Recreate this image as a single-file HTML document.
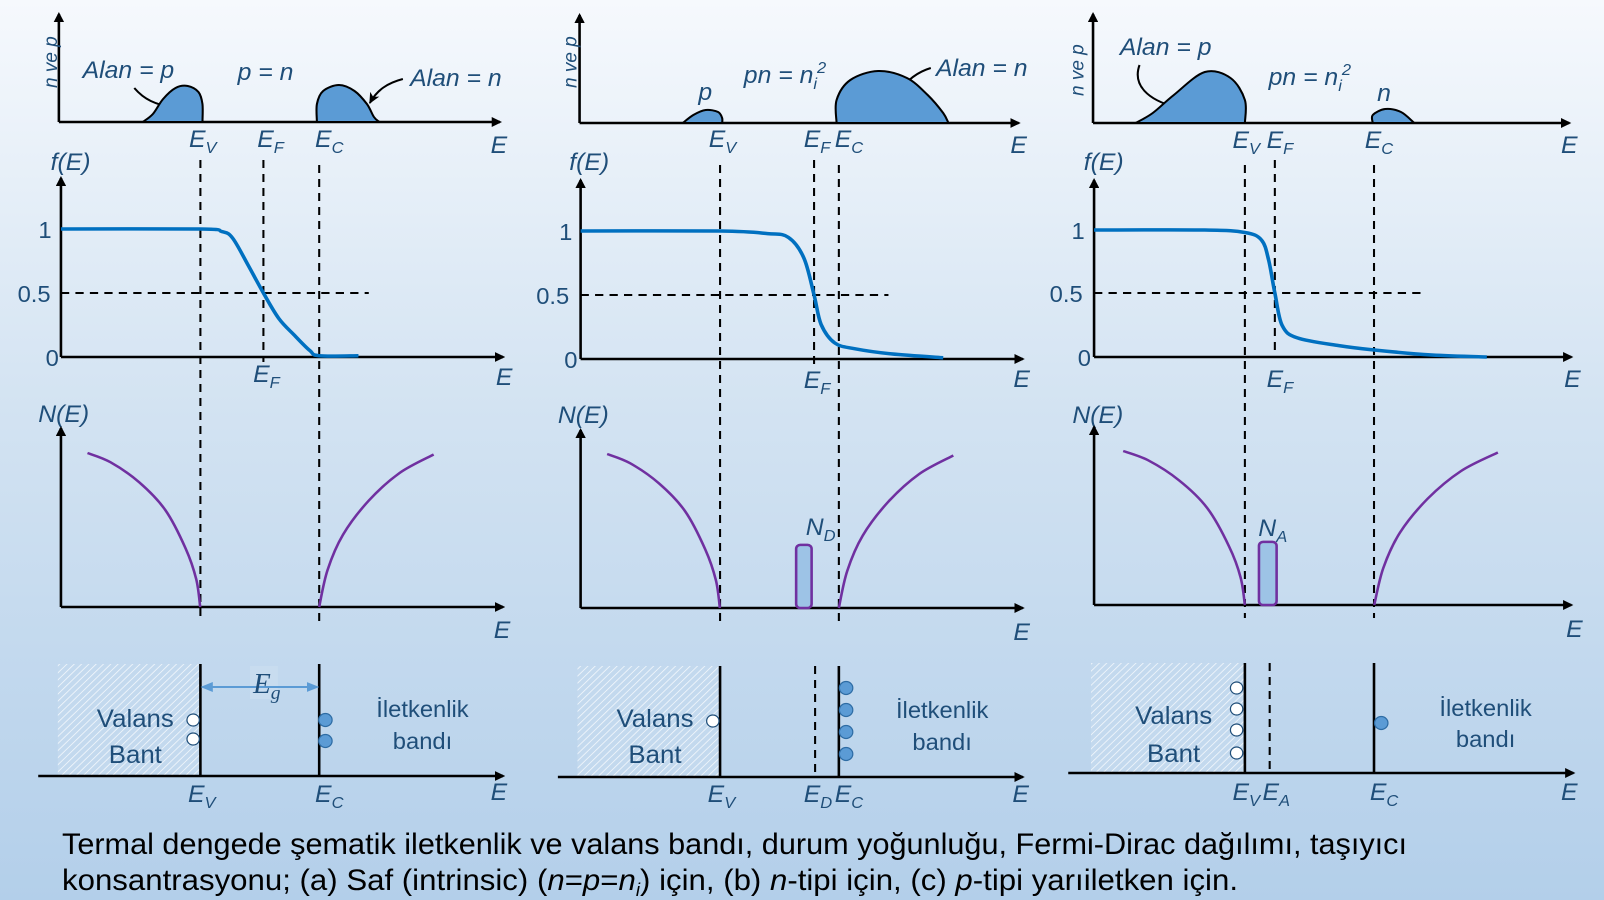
<!DOCTYPE html>
<html><head><meta charset="utf-8"><style>
html,body{margin:0;padding:0;}
body{width:1604px;height:900px;overflow:hidden;}
svg{display:block;}
text{font-family:"Liberation Sans",sans-serif;fill:#1f4e79;}
.it{font-style:italic;}
.lab{font-size:24px;font-style:italic;}
.sub{font-size:16px;}
.tick{font-size:23px;}
.ax{stroke:#000;stroke-width:2.5;fill:none;}
.dash{stroke:#000;stroke-width:2;stroke-dasharray:8,6;fill:none;}
.solid{stroke:#000;stroke-width:2.5;}
</style></head><body>
<svg id="fig" width="1604" height="900" viewBox="0 0 1604 900" xmlns="http://www.w3.org/2000/svg">
<defs>
<linearGradient id="bg" x1="0" y1="0" x2="0" y2="1">
<stop offset="0" stop-color="#f6f9fd"/><stop offset="0.45" stop-color="#d3e3f2"/><stop offset="1" stop-color="#b3cfea"/>
</linearGradient>
<marker id="arr" markerWidth="10" markerHeight="10" refX="8" refY="5" orient="auto" markerUnits="userSpaceOnUse">
<path d="M0,0 L10,5 L0,10 z" fill="#000"/></marker>
<marker id="arrs" markerWidth="12" markerHeight="12" refX="10" refY="6" orient="auto" markerUnits="userSpaceOnUse">
<path d="M0,1 L11,6 L0,11 L3,6 z" fill="#000"/></marker>
<marker id="barr" markerWidth="12" markerHeight="12" refX="10" refY="6" orient="auto-start-reverse" markerUnits="userSpaceOnUse">
<path d="M0,1 L12,6 L0,11 z" fill="#5b9bd5"/></marker>
<pattern id="hatch" width="5" height="5" patternUnits="userSpaceOnUse" patternTransform="rotate(45)">
<rect width="5" height="5" fill="#c3d9ee"/><line x1="0" y1="0" x2="0" y2="5" stroke="#f2f7fc" stroke-width="1.6"/>
</pattern>
</defs>
<rect width="1604" height="900" fill="url(#bg)"/>

<!-- ===== Panel A ===== -->
<g transform="scale(1.033,1)">
<line class="ax" x1="57" y1="122" x2="57" y2="14" marker-end="url(#arr)"/>
<line class="ax" x1="57" y1="122" x2="484" y2="122" marker-end="url(#arr)"/>
<text class="it" font-size="19" transform="translate(55,88) rotate(-90)">n ve p</text>
<text class="lab" x="80" y="78">Alan = p</text>
<text class="lab" x="230" y="80">p = n</text>
<text class="lab" x="397" y="86">Alan = n</text>
<path d="M130,88 C140,100 150,104 168,108" fill="none" stroke="#000" stroke-width="2" marker-end="url(#arrs)"/>
<path d="M390,79 C375,83 365,90 358,103" fill="none" stroke="#000" stroke-width="2" marker-end="url(#arrs)"/>
<text class="lab" x="183" y="147">E<tspan class="sub" dy="6">V</tspan></text>
<text class="lab" x="249" y="147">E<tspan class="sub" dy="6">F</tspan></text>
<text class="lab" x="305" y="147">E<tspan class="sub" dy="6">C</tspan></text>
<text class="lab" x="475" y="153">E</text>
<text class="lab" x="49" y="170">f(E)</text>
<line class="ax" x1="59" y1="357" x2="59" y2="178" marker-end="url(#arr)"/>
<line class="ax" x1="59" y1="357" x2="487" y2="357" marker-end="url(#arr)"/>
<text class="tick" x="50" y="238" text-anchor="end">1</text>
<text class="tick" x="49" y="302" text-anchor="end">0.5</text>
<text class="tick" x="57" y="366" text-anchor="end">0</text>
<line class="dash" x1="59" y1="293" x2="357" y2="293"/>
<line class="dash" x1="194" y1="160" x2="194" y2="622"/>
<line class="dash" x1="255" y1="160" x2="255" y2="362" stroke-width="2.5"/>
<line class="dash" x1="309" y1="165" x2="309" y2="622"/>
<text class="lab" x="245" y="382">E<tspan class="sub" dy="6">F</tspan></text>
<text class="lab" x="480" y="385">E</text>
<text class="lab" x="37" y="422">N(E)</text>
<line class="ax" x1="59" y1="607" x2="59" y2="428" marker-end="url(#arr)"/>
<line class="ax" x1="59" y1="607" x2="487" y2="607" marker-end="url(#arr)"/>
<text class="lab" x="478" y="638">E</text>
<rect x="56" y="664" width="138" height="112" fill="url(#hatch)"/>
<line class="solid" x1="194" y1="664" x2="194" y2="776"/>
<line class="solid" x1="309" y1="664" x2="309" y2="776"/>
<line class="ax" x1="37" y1="776" x2="487" y2="776" marker-end="url(#arr)"/>
<rect x="242" y="666" width="27" height="33" fill="#c8dcef"/>
<line x1="196" y1="687" x2="307" y2="687" stroke="#5b9bd5" stroke-width="2" marker-start="url(#barr)" marker-end="url(#barr)"/>
<text x="245" y="693" font-style="italic" font-size="28" style="font-family:'Liberation Serif',serif">E<tspan font-size="19" dy="6">g</tspan></text>
<text x="131" y="727" font-size="25" text-anchor="middle">Valans</text>
<text x="131" y="763" font-size="25" text-anchor="middle">Bant</text>
<circle cx="187" cy="720" r="6" fill="#fff" stroke="#1f4e79" stroke-width="1.2"/>
<circle cx="187" cy="739" r="6" fill="#fff" stroke="#1f4e79" stroke-width="1.2"/>
<circle cx="315" cy="720" r="6.5" fill="#5b9bd5" stroke="#2e6ca4" stroke-width="1.2"/>
<circle cx="315" cy="741" r="6.5" fill="#5b9bd5" stroke="#2e6ca4" stroke-width="1.2"/>
<text x="409" y="717" font-size="23" text-anchor="middle">İletkenlik</text>
<text x="409" y="749" font-size="23" text-anchor="middle">bandı</text>
<text class="lab" x="182" y="802">E<tspan class="sub" dy="6">V</tspan></text>
<text class="lab" x="305" y="802">E<tspan class="sub" dy="6">C</tspan></text>
<text class="lab" x="475" y="800">E</text>
<g id="marks-a"></g>
</g>

<!-- ===== Panel B ===== -->
<g transform="translate(-17.5,0) scale(1.033,1)">
<line class="ax" x1="578" y1="123" x2="578" y2="15" marker-end="url(#arr)"/>
<line class="ax" x1="578" y1="123" x2="1003" y2="123" marker-end="url(#arr)"/>
<text class="it" font-size="19" transform="translate(575,88) rotate(-90)">n ve p</text>
<text class="lab" x="693" y="100">p</text>
<text class="lab" x="737" y="83">pn = n<tspan class="sub" dy="6">i</tspan><tspan class="sub" dy="-16">2</tspan></text>
<text class="lab" x="923" y="76">Alan = n</text>
<path d="M918,68 C905,72 895,80 887,92" fill="none" stroke="#000" stroke-width="2" marker-end="url(#arrs)"/>
<text class="lab" x="703" y="147">E<tspan class="sub" dy="6">V</tspan></text>
<text class="lab" x="795" y="147">E<tspan class="sub" dy="6">F</tspan></text>
<text class="lab" x="825" y="147">E<tspan class="sub" dy="6">C</tspan></text>
<text class="lab" x="995" y="153">E</text>
<text class="lab" x="568" y="170">f(E)</text>
<line class="ax" x1="579" y1="359" x2="579" y2="180" marker-end="url(#arr)"/>
<line class="ax" x1="579" y1="359" x2="1007" y2="359" marker-end="url(#arr)"/>
<text class="tick" x="571" y="240" text-anchor="end">1</text>
<text class="tick" x="568" y="304" text-anchor="end">0.5</text>
<text class="tick" x="576" y="368" text-anchor="end">0</text>
<line class="dash" x1="579" y1="295" x2="877" y2="295"/>
<line class="dash" x1="714" y1="165" x2="714" y2="623"/>
<line class="dash" x1="805" y1="160" x2="805" y2="364" stroke-width="2.5"/>
<line class="dash" x1="829" y1="165" x2="829" y2="623"/>
<text class="lab" x="795" y="388">E<tspan class="sub" dy="6">F</tspan></text>
<text class="lab" x="998" y="387">E</text>
<text class="lab" x="557" y="423">N(E)</text>
<line class="ax" x1="579" y1="608" x2="579" y2="430" marker-end="url(#arr)"/>
<line class="ax" x1="579" y1="608" x2="1007" y2="608" marker-end="url(#arr)"/>
<text class="lab" x="797" y="535">N<tspan class="sub" dy="6">D</tspan></text>
<text class="lab" x="998" y="640">E</text>
<rect x="576" y="666" width="138" height="111" fill="url(#hatch)"/>
<line class="solid" x1="714" y1="666" x2="714" y2="777" stroke-width="2"/>
<line class="dash" x1="806" y1="666" x2="806" y2="777"/>
<line class="solid" x1="829" y1="666" x2="829" y2="777" stroke-width="3"/>
<line class="ax" x1="557" y1="777" x2="1007" y2="777" marker-end="url(#arr)"/>
<text x="651" y="727" font-size="25" text-anchor="middle">Valans</text>
<text x="651" y="763" font-size="25" text-anchor="middle">Bant</text>
<circle cx="707" cy="721" r="6" fill="#fff" stroke="#1f4e79" stroke-width="1.2"/>
<circle cx="836" cy="688" r="6.5" fill="#5b9bd5" stroke="#2e6ca4" stroke-width="1.2"/>
<circle cx="836" cy="710" r="6.5" fill="#5b9bd5" stroke="#2e6ca4" stroke-width="1.2"/>
<circle cx="836" cy="732" r="6.5" fill="#5b9bd5" stroke="#2e6ca4" stroke-width="1.2"/>
<circle cx="836" cy="754" r="6.5" fill="#5b9bd5" stroke="#2e6ca4" stroke-width="1.2"/>
<text x="929" y="718" font-size="23" text-anchor="middle">İletkenlik</text>
<text x="929" y="750" font-size="23" text-anchor="middle">bandı</text>
<text class="lab" x="702" y="802">E<tspan class="sub" dy="6">V</tspan></text>
<text class="lab" x="795" y="802">E<tspan class="sub" dy="6">D</tspan></text>
<text class="lab" x="825" y="802">E<tspan class="sub" dy="6">C</tspan></text>
<text class="lab" x="997" y="802">E</text>
<g id="marks-b"></g>
</g>

<!-- ===== Panel C ===== -->
<g transform="translate(-35,0) scale(1.033,1)">
<line class="ax" x1="1092" y1="123" x2="1092" y2="14" marker-end="url(#arr)"/>
<line class="ax" x1="1092" y1="123" x2="1553" y2="123" marker-end="url(#arr)"/>
<text class="it" font-size="19" transform="translate(1083,96) rotate(-90)">n ve p</text>
<text class="lab" x="1118" y="55">Alan = p</text>
<path d="M1137,65 C1130,85 1145,100 1172,107" fill="none" stroke="#000" stroke-width="2" marker-end="url(#arrs)"/>
<text class="lab" x="1262" y="85">pn = n<tspan class="sub" dy="6">i</tspan><tspan class="sub" dy="-16">2</tspan></text>
<text class="lab" x="1367" y="101">n</text>
<text class="lab" x="1227" y="148">E<tspan class="sub" dy="6">V</tspan></text>
<text class="lab" x="1260" y="148">E<tspan class="sub" dy="6">F</tspan></text>
<text class="lab" x="1355" y="148">E<tspan class="sub" dy="6">C</tspan></text>
<text class="lab" x="1545" y="153">E</text>
<text class="lab" x="1083" y="170">f(E)</text>
<line class="ax" x1="1093" y1="357" x2="1093" y2="180" marker-end="url(#arr)"/>
<line class="ax" x1="1093" y1="357" x2="1555" y2="357" marker-end="url(#arr)"/>
<text class="tick" x="1084" y="239" text-anchor="end">1</text>
<text class="tick" x="1082" y="302" text-anchor="end">0.5</text>
<text class="tick" x="1090" y="366" text-anchor="end">0</text>
<line class="dash" x1="1093" y1="293" x2="1415" y2="293"/>
<line class="dash" x1="1239" y1="165" x2="1239" y2="618"/>
<line class="dash" x1="1268" y1="160" x2="1268" y2="357" stroke-width="2.5"/>
<line class="dash" x1="1364" y1="165" x2="1364" y2="618"/>
<text class="lab" x="1260" y="387">E<tspan class="sub" dy="6">F</tspan></text>
<text class="lab" x="1548" y="387">E</text>
<text class="lab" x="1072" y="423">N(E)</text>
<line class="ax" x1="1093" y1="605" x2="1093" y2="427" marker-end="url(#arr)"/>
<line class="ax" x1="1093" y1="605" x2="1555" y2="605" marker-end="url(#arr)"/>
<text class="lab" x="1252" y="536">N<tspan class="sub" dy="6">A</tspan></text>
<text class="lab" x="1550" y="637">E</text>
<rect x="1090" y="663" width="149" height="110" fill="url(#hatch)"/>
<line class="solid" x1="1239" y1="663" x2="1239" y2="773" stroke-width="2"/>
<line class="dash" x1="1263" y1="663" x2="1263" y2="773"/>
<line class="solid" x1="1364" y1="663" x2="1364" y2="773"/>
<line class="ax" x1="1068" y1="773" x2="1557" y2="773" marker-end="url(#arr)"/>
<text x="1170" y="724" font-size="25" text-anchor="middle">Valans</text>
<text x="1170" y="762" font-size="25" text-anchor="middle">Bant</text>
<circle cx="1231" cy="688" r="6" fill="#fff" stroke="#1f4e79" stroke-width="1.2"/>
<circle cx="1231" cy="709" r="6" fill="#fff" stroke="#1f4e79" stroke-width="1.2"/>
<circle cx="1231" cy="730" r="6" fill="#fff" stroke="#1f4e79" stroke-width="1.2"/>
<circle cx="1231" cy="753" r="6" fill="#fff" stroke="#1f4e79" stroke-width="1.2"/>
<circle cx="1371" cy="723" r="6.5" fill="#5b9bd5" stroke="#2e6ca4" stroke-width="1.2"/>
<text x="1472" y="716" font-size="23" text-anchor="middle">İletkenlik</text>
<text x="1472" y="747" font-size="23" text-anchor="middle">bandı</text>
<text class="lab" x="1227" y="800">E<tspan class="sub" dy="6">V</tspan></text>
<text class="lab" x="1256" y="800">E<tspan class="sub" dy="6">A</tspan></text>
<text class="lab" x="1360" y="800">E<tspan class="sub" dy="6">C</tspan></text>
<text class="lab" x="1545" y="800">E</text>
<g id="marks-c"></g>
</g>

<text x="62" y="854" font-size="30" style="fill:#000" textLength="1345" lengthAdjust="spacingAndGlyphs">Termal dengede şematik iletkenlik ve valans bandı, durum yoğunluğu, Fermi-Dirac dağılımı, taşıyıcı</text>
<text x="62" y="890" font-size="30" style="fill:#000" textLength="1176" lengthAdjust="spacingAndGlyphs">konsantrasyonu; (a)  Saf (intrinsic) (<tspan font-style="italic">n</tspan>=<tspan font-style="italic">p</tspan>=<tspan font-style="italic">n<tspan font-size="18" dy="6">i</tspan></tspan><tspan dy="-6">) için, (b) </tspan><tspan font-style="italic">n</tspan>-tipi için, (c) <tspan font-style="italic">p</tspan>-tipi yarıiletken için.</text>
</svg>
<script>
// ---- Fermi-Dirac curves (E in arbitrary units 0..100, f 0..1) ----
const fA_E = [0, 31.5, 36.4, 38.8, 42.3, 45.8, 49.3, 52.8, 56.3, 58.4, 67.3];
const fA_f = [1, 1, 0.98, 0.93, 0.72, 0.5, 0.30, 0.17, 0.05, 0.01, 0.01];
const fB_E = [0, 31.5, 42.3, 47.0, 50.5, 52.8, 54.4, 57.5, 62.1, 70.3, 82.0];
const fB_f = [1, 1, 0.98, 0.95, 0.79, 0.5, 0.27, 0.125, 0.08, 0.04, 0.01];
const fC_E = [0, 23.2, 31.6, 35.1, 36.6, 37.9, 39.4, 42.6, 51.3, 58.7, 70.8, 82.3];
const fC_f = [1, 1, 0.98, 0.92, 0.76, 0.5, 0.25, 0.15, 0.09, 0.055, 0.016, 0];
// ---- Density of states shapes (offset from band edge, N 0..100) ----
const dosVal_dE = [-25.5, -20.3, -13.8, -7.9, -3.3, -0.9, 0];
const dosVal_N = [100, 94, 81, 63, 38, 18, 0];
const dosCon_dE = [0, 1.9, 5.4, 11.2, 18.2, 25.9];
const dosCon_N = [0, 24, 47, 69, 87, 99];
// ---- Band edges per panel (E units) ----
const edgeEv = [31.5, 31.5, 31.6];
const edgeEc = [58.4, 58.4, 58.7];
// ---- Dopant levels ----
const dopE = [null, 50.5, 36.4];
const dopWidth = [0, 3.5, 3.7];
const dopN = [0, 41, 41];
// ---- Carrier blobs (E units, height 0..100) ----
const pA_E = [18.5, 20.8, 23.1, 25.9, 28.7, 31.1, 32, 32];
const pA_v = [0, 16, 46, 68, 72, 60, 36, 0];
const nA_E = [57.9, 57.9, 59.3, 62.9, 66.4, 69.2, 70.8, 72];
const nA_v = [0, 36, 62, 74, 62, 36, 10, 0];
const pB_E = [23.1, 25.5, 28.3, 31.1, 32, 32];
const pB_v = [0, 16, 26, 22, 10, 0];
const nB_E = [57.9, 57.9, 61, 67.3, 73.8, 78.5, 82, 83.2];
const nB_v = [0, 46, 86, 104, 90, 56, 20, 0];
const pC_E = [8.7, 12.3, 16.7, 23.2, 28.6, 31.6, 31.6];
const pC_v = [0, 20, 56, 102, 90, 46, 0];
const nC_E = [58.4, 58.4, 61, 64.3, 67.1];
const nC_v = [0, 16, 28, 22, 0];

const panels = [
  {id:'a', x0:59, k:4.28, fy1:229, fy0:357, ny0:607, ty0:122, fE:fA_E, ff:fA_f, pE:pA_E, pv:pA_v, nE:nA_E, nv:nA_v},
  {id:'b', x0:579, k:4.28, fy1:231, fy0:359, ny0:608, ty0:123, fE:fB_E, ff:fB_f, pE:pB_E, pv:pB_v, nE:nB_E, nv:nB_v},
  {id:'c', x0:1093, k:4.62, fy1:230, fy0:357, ny0:605, ty0:123, fE:fC_E, ff:fC_f, pE:pC_E, pv:pC_v, nE:nC_E, nv:nC_v}
];
const NS = 'http://www.w3.org/2000/svg';
function smooth(pts){
  let d = 'M' + pts[0][0].toFixed(1) + ',' + pts[0][1].toFixed(1);
  for (let i = 0; i < pts.length - 1; i++) {
    const p0 = pts[i-1] || pts[i], p1 = pts[i], p2 = pts[i+1], p3 = pts[i+2] || p2;
    const c1x = p1[0] + (p2[0]-p0[0])/6, c1y = p1[1] + (p2[1]-p0[1])/6;
    const c2x = p2[0] - (p3[0]-p1[0])/6, c2y = p2[1] - (p3[1]-p1[1])/6;
    d += ' C' + c1x.toFixed(1)+','+c1y.toFixed(1)+' '+c2x.toFixed(1)+','+c2y.toFixed(1)+' '+p2[0].toFixed(1)+','+p2[1].toFixed(1);
  }
  return d;
}
panels.forEach(function(P, i){
  const host = document.getElementById('marks-' + P.id);
  function mk(tag){ const el = document.createElementNS(NS, tag); host.appendChild(el); return el; }
  const xs = function(E){ return P.x0 + E * P.k; };
  const fy = function(f){ return P.fy0 - f * (P.fy0 - P.fy1); };
  const ny = function(N){ return P.ny0 - N * 1.54; };
  const ty = function(v){ return P.ty0 - v * 0.5; };
  [[P.pE, P.pv, 'p'], [P.nE, P.nv, 'n']].forEach(function(b){
    const pts = b[0].map(function(E, j){ return [xs(E), ty(b[1][j])]; });
    const el = mk('path');
    el.setAttribute('d', smooth(pts) + ' Z');
    el.setAttribute('fill', '#5b9bd5');
    el.setAttribute('stroke', '#000');
    el.setAttribute('stroke-width', '2');
    
    
  });
  const fpts = P.fE.map(function(E, j){ return [xs(E), fy(P.ff[j])]; });
  const fl = mk('path');
  fl.setAttribute('d', smooth(fpts));
  fl.setAttribute('fill', 'none');
  fl.setAttribute('stroke', '#0070c0');
  fl.setAttribute('stroke-width', '3.5');
  
  
  const vpts = dosVal_dE.map(function(dE, j){ return [xs(edgeEv[i] + dE), ny(dosVal_N[j])]; });
  const vl = mk('path');
  vl.setAttribute('d', smooth(vpts));
  vl.setAttribute('fill', 'none');
  vl.setAttribute('stroke', '#7030a0');
  vl.setAttribute('stroke-width', '2.5');
  
  
  const cpts = dosCon_dE.map(function(dE, j){ return [xs(edgeEc[i] + dE), ny(dosCon_N[j])]; });
  const cl = mk('path');
  cl.setAttribute('d', smooth(cpts));
  cl.setAttribute('fill', 'none');
  cl.setAttribute('stroke', '#7030a0');
  cl.setAttribute('stroke-width', '2.5');
  
  
  if (dopE[i] !== null) {
    const r = mk('rect');
    r.setAttribute('x', xs(dopE[i]) - dopWidth[i] * P.k / 2);
    r.setAttribute('y', ny(dopN[i]));
    r.setAttribute('width', dopWidth[i] * P.k);
    r.setAttribute('height', P.ny0 - ny(dopN[i]));
    r.setAttribute('rx', '4');
    r.setAttribute('fill', '#9dc3e6');
    r.setAttribute('stroke', '#7030a0');
    r.setAttribute('stroke-width', '2.5');
    
    
  }
});
</script>
</body></html>
